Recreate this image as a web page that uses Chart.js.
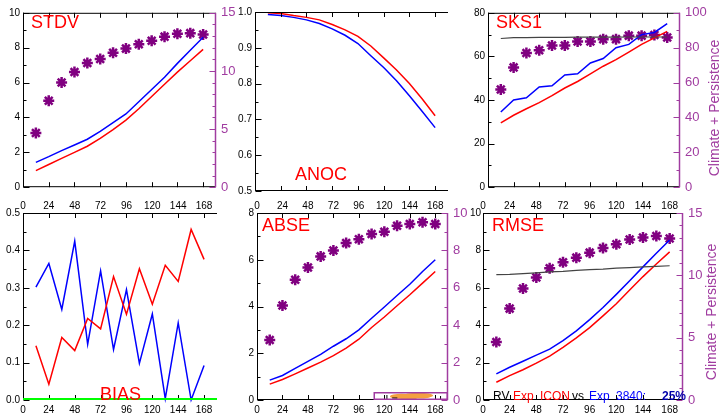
<!DOCTYPE html>
<html><head><meta charset="utf-8">
<script src="https://cdn.jsdelivr.net/npm/chart.js@4.4.0/dist/chart.umd.min.js"></script>
<style>
body{margin:0;width:722px;height:416px;background:#fff;position:relative;overflow:hidden;font-family:"Liberation Sans",Arial,sans-serif}
.pan{position:absolute}
.ttl{position:absolute;color:#ff0000;font-size:18px;line-height:18px;white-space:nowrap;z-index:5}
.vlab{position:absolute;color:#a03ca0;font-size:14px;line-height:14px;white-space:nowrap;transform:translate(-50%,-50%) rotate(-90deg);z-index:5}
.ft{position:absolute;font-size:12px;line-height:12px;white-space:nowrap;z-index:5;top:390px}
</style></head><body>
<div class="ttl" style="left:31px;top:13px">STDV</div>
<div class="ttl" style="left:295px;top:165px">ANOC</div>
<div class="ttl" style="left:496px;top:13px">SKS1</div>
<div class="ttl" style="left:100px;top:385px">BIAS</div>
<div class="ttl" style="left:262px;top:216px">ABSE</div>
<div class="ttl" style="left:492px;top:216px">RMSE</div>
<div class="vlab" style="left:714px;top:108px">Climate + Persistence</div>
<div class="vlab" style="left:711px;top:312px">Climate + Persistence</div>
<div class="ft" style="left:493px;color:#000">RV</div>
<div class="ft" style="left:513px;color:#ff0000">Exp</div>
<div class="ft" style="left:540px;color:#ff0000">ICON</div>
<div class="ft" style="left:572px;color:#000">vs</div>
<div class="ft" style="left:589px;color:#0000ff">Exp</div>
<div class="ft" style="left:616px;color:#0000ff">3840:</div>
<div class="ft" style="left:662px;color:#0000aa;font-weight:bold">25%</div>
<script>
// ---- data ----
const hours = [12,24,36,48,60,72,84,96,108,120,132,144,156,168];
const hourTicks = [0,24,48,72,96,120,144,168];

const stdvIcon = [0.95,1.3,1.65,2.0,2.35,2.8,3.3,3.85,4.5,5.2,5.9,6.6,7.25,7.9];
const stdv3840 = [1.42,1.75,2.1,2.42,2.75,3.2,3.7,4.2,4.9,5.6,6.3,7.1,7.85,8.6];
const stdvClim = [4.66,7.43,9.0,9.9,10.68,11.03,11.57,11.92,12.3,12.6,12.95,13.2,13.25,13.14];

const anocIcon = [0.998,0.996,0.99,0.985,0.978,0.965,0.95,0.932,0.905,0.872,0.838,0.8,0.757,0.71];
const anoc3840 = [0.993,0.99,0.985,0.978,0.968,0.953,0.935,0.912,0.878,0.845,0.808,0.766,0.722,0.677];

const sks1Icon = [29.5,33,36,38.8,42,45.5,48.5,52,55.5,58.5,62,65.5,68.5,71.5];
const sks13840 = [34.5,40,41,46,46.5,51.5,52,57,59,64,65.5,70,71,75];
const sks1Ref  = [68.2,68.6,68.6,68.7,68.7,68.7,68.8,68.8,68.8,68.8,68.9,68.9,68.9,68.9];
const sks1Clim = [56,68.7,76.9,78.5,81.3,81.3,83.6,83.6,84.9,84.9,86.9,86.9,87.3,85.8];

const biasIcon = [0.145,0.042,0.167,0.132,0.218,0.19,0.33,0.229,0.351,0.256,0.36,0.317,0.456,0.376];
const bias3840 = [0.302,0.365,0.242,0.425,0.149,0.345,0.135,0.295,0.098,0.23,0.004,0.206,0.0,0.092];

const abseIcon = [0.68,0.88,1.12,1.37,1.62,1.9,2.22,2.6,3.1,3.55,4.03,4.5,5.0,5.5];
const abse3840 = [0.85,1.05,1.35,1.65,1.95,2.3,2.62,3.0,3.5,3.98,4.47,4.95,5.5,6.0];
const abseClim = [3.21,5.05,6.43,7.09,7.68,8.0,8.39,8.6,8.88,9.0,9.32,9.41,9.5,9.41];

const rmseIcon = [0.95,1.3,1.62,1.97,2.35,2.82,3.32,3.87,4.5,5.15,5.88,6.6,7.27,7.92];
const rmse3840 = [1.4,1.75,2.07,2.4,2.72,3.18,3.7,4.3,4.95,5.65,6.38,7.12,7.85,8.56];
const rmseRef  = [6.7,6.72,6.76,6.8,6.85,6.88,6.93,6.97,7.0,7.05,7.08,7.12,7.15,7.18];
const rmseClim = [4.66,7.33,8.95,9.83,10.56,11.04,11.42,11.82,12.2,12.5,12.88,13.04,13.15,12.96];

// ---- styling ----
const FONT = '"Liberation Sans", Arial, sans-serif';
const PURPLE = '#a03ca0', STAR = '#800080', RED = '#ff0000', BLUE = '#0000ff', GRAY = '#444444';
const NOGRID = {display:false, drawTicks:false, tickLength:0};

function pts(arr){ return hours.map((h,i)=>({x:h,y:arr[i]})); }

function drawAxisTicks(ctx, scale, x, dir, sub, color){
  const t = scale.ticks.map(k=>k.value);
  ctx.strokeStyle = color; ctx.beginPath();
  for (let i=0;i<t.length;i++){
    const py = Math.round(scale.getPixelForValue(t[i]))+0.5;
    ctx.moveTo(x,py); ctx.lineTo(x+dir*6,py);
    if (i<t.length-1){
      for (let j=1;j<sub;j++){
        const v = t[i]+(t[i+1]-t[i])*j/sub;
        const pm = Math.round(scale.getPixelForValue(v))+0.5;
        ctx.moveTo(x,pm); ctx.lineTo(x+dir*3,pm);
      }
    }
  }
  ctx.stroke();
}

const framePlugin = {
  id:'frame',
  afterDatasetsDraw(chart, args, o){
    const {ctx, chartArea:{left,right,top,bottom}, scales} = chart;
    ctx.save();
    ctx.lineWidth = 1;
    ctx.strokeStyle = '#000';
    ctx.beginPath();
    ctx.moveTo(left+0.5, top); ctx.lineTo(left+0.5, bottom);
    ctx.moveTo(left, top+0.5); ctx.lineTo(right, top+0.5);
    ctx.moveTo(left, bottom-0.5); ctx.lineTo(right, bottom-0.5);
    hourTicks.forEach(v=>{
      const px = Math.round(scales.x.getPixelForValue(v))+0.5;
      ctx.moveTo(px, top); ctx.lineTo(px, top+5);
      ctx.moveTo(px, bottom); ctx.lineTo(px, bottom-5);
    });
    ctx.stroke();
    drawAxisTicks(ctx, scales.y, left+0.5, 1, o.ySub||2, '#000');
    if (scales.y2){
      ctx.lineWidth = 1.5;
      ctx.strokeStyle = PURPLE;
      ctx.beginPath(); ctx.moveTo(right-0.5, top); ctx.lineTo(right-0.5, bottom); ctx.stroke();
      ctx.lineWidth = 1;
      drawAxisTicks(ctx, scales.y2, right-0.5, -1, o.y2Sub||2, PURPLE);
    }
    if (o.inset){
      const w = (right-left)*0.39, h = 8;
      const x0 = right - w, y0 = bottom - h;
      ctx.fillStyle = '#f4a040';
      ctx.beginPath();
      ctx.ellipse(x0+w*0.38, y0+h*0.55, w*0.16, h*0.33, 0, 0, Math.PI*2);
      ctx.ellipse(x0+w*0.6, y0+h*0.45, w*0.2, h*0.36, 0, 0, Math.PI*2);
      ctx.ellipse(x0+w*0.48, y0+h*0.7, w*0.12, h*0.28, 0, 0, Math.PI*2);
      ctx.fill();
      ctx.strokeStyle = '#000'; ctx.lineWidth = 1;
      ctx.beginPath();
      ctx.moveTo(x0+w*0.18, bottom-1); ctx.lineTo(x0+w*0.18, bottom-5);
      ctx.moveTo(x0+w*0.25, bottom-2); ctx.lineTo(x0+w*0.32, bottom-2);
      ctx.moveTo(x0+w*0.9, bottom-1); ctx.lineTo(x0+w*0.9, bottom-4);
      ctx.stroke();
      ctx.strokeStyle = PURPLE; ctx.lineWidth = 1.5;
      ctx.strokeRect(x0+0.75, y0+0.75, w-1.5, h-1.5);
    }
    if (o.zero){
      const py = scales.y.getPixelForValue(0);
      ctx.strokeStyle = '#00ff00'; ctx.lineWidth = 2;
      ctx.beginPath(); ctx.moveTo(left, py-1); ctx.lineTo(right, py-1); ctx.stroke();
    }
    ctx.restore();
  }
};
Chart.register(framePlugin);

function line(arr, color, w){
  return {data:pts(arr), borderColor:color, backgroundColor:color, borderWidth:w||1.5, pointRadius:0, tension:0, fill:false, yAxisID:'y', clip:false};
}
function stars(arr){
  return {data:pts(arr), showLine:false, pointStyle:'star', pointRadius:5.5, borderWidth:2.5, borderColor:STAR, backgroundColor:STAR, yAxisID:'y2', clip:false};
}

function makePanel(p){
  const div = document.createElement('div');
  div.className = 'pan';
  div.style.cssText = `left:${p.x}px;top:${p.y}px;width:${p.w}px;height:${p.h}px`;
  const cv = document.createElement('canvas');
  cv.width = p.w; cv.height = p.h;
  cv.style.width = p.w+'px'; cv.style.height = p.h+'px';
  div.appendChild(cv); document.body.appendChild(div);
  const fmt = p.dec ? (v=>Number(v).toFixed(p.dec)) : (v=>String(Math.round(v)));
  const scales = {
    x:{type:'linear', min:0, max:180, position:'bottom', grid:NOGRID, border:{display:false},
       afterBuildTicks:s=>{ s.ticks = hourTicks.map(v=>({value:v})); },
       ticks:{display:!!p.bottomLabels, autoSkip:false, maxRotation:0, color:'#000', padding:4, font:{size:10, family:FONT}},
       afterFit:s=>{ s.height = p.hb; }},
    y:{type:'linear', min:p.yMin, max:p.yMax, position:'left', grid:NOGRID, border:{display:false},
       ticks:{stepSize:p.yStep, color:'#000', padding:p.yPad||3, font:{size:10, family:FONT}, callback:fmt},
       afterFit:s=>{ s.width = p.wl; }}
  };
  if (p.ht){
    scales.xt = {type:'linear', min:0, max:180, position:'top', grid:NOGRID, border:{display:false},
       afterBuildTicks:s=>{ s.ticks = hourTicks.map(v=>({value:v})); },
       ticks:{autoSkip:false, maxRotation:0, color:'#000', padding:1, font:{size:10, family:FONT}},
       afterFit:s=>{ s.height = p.ht; }};
  }
  if (p.y2Max !== undefined){
    scales.y2 = {type:'linear', min:0, max:p.y2Max, position:'right', grid:NOGRID, border:{display:false},
       ticks:{stepSize:p.y2Step, color:PURPLE, padding:5, font:{size:13, family:FONT}, callback:v=>String(Math.round(v))},
       afterFit:s=>{ s.width = p.wr; }};
  }
  new Chart(cv, {
    type:'line',
    data:{datasets:p.datasets},
    options:{
      responsive:false, animation:false, events:[],
      layout:{padding:{top:p.padTop||0, right:p.padRight||0, left:0, bottom:0}},
      scales,
      plugins:{legend:{display:false}, tooltip:{enabled:false},
        frame:{ySub:p.ySub, y2Sub:p.y2Sub, zero:p.zero, inset:p.inset}}
    }
  });
}

makePanel({x:0,y:0,w:245,h:200, wl:23, wr:29, padTop:12, hb:3,
  yMin:0,yMax:10,yStep:2, y2Max:15,y2Step:5,y2Sub:5,
  datasets:[line(stdvIcon,RED), line(stdv3840,BLUE), stars(stdvClim)]});
makePanel({x:230,y:0,w:240,h:200, wl:25, padRight:22, padTop:12, hb:3,
  yMin:0.5,yMax:1.0,yStep:0.1,dec:1,
  datasets:[line(anocIcon,RED), line(anoc3840,BLUE)]});
makePanel({x:470,y:0,w:252,h:200, wl:18, wr:42, padTop:12, hb:3,
  yMin:0,yMax:80,yStep:20, y2Max:100,y2Step:20,y2Sub:2,
  datasets:[line(sks1Ref,GRAY,1.2), line(sks1Icon,RED), line(sks13840,BLUE), stars(sks1Clim)]});
makePanel({x:0,y:200,w:245,h:216, wl:23, padRight:28, hb:16, ht:13, bottomLabels:true,
  yMin:0,yMax:0.5,yStep:0.1,dec:1, zero:true,
  datasets:[line(biasIcon,RED), line(bias3840,BLUE)]});
makePanel({x:230,y:200,w:240,h:216, wl:27, wr:22, hb:16, ht:13, bottomLabels:true,
  yMin:0,yMax:8,yStep:2, y2Max:10,y2Step:2,y2Sub:2, inset:true,
  datasets:[line(abseIcon,RED), line(abse3840,BLUE), stars(abseClim)]});
makePanel({x:470,y:200,w:252,h:216, wl:13, wr:39, hb:16, ht:13, bottomLabels:true, yPad:2,
  yMin:0,yMax:10,yStep:2, y2Max:15,y2Step:5,y2Sub:5,
  datasets:[line(rmseRef,GRAY,1.2), line(rmseIcon,RED), line(rmse3840,BLUE), stars(rmseClim)]});
</script>
</body></html>
